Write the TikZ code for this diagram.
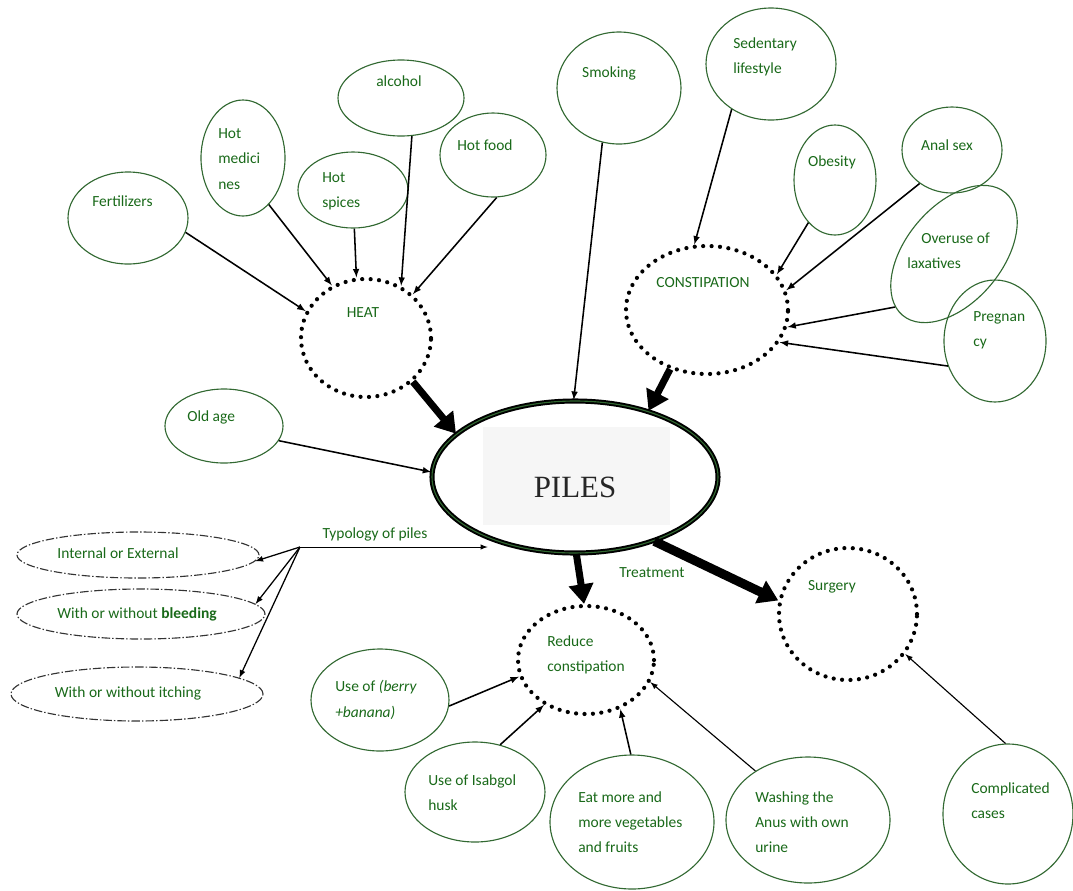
\documentclass[tikz,border=0pt]{standalone}
\usepackage{fontspec}
\setmainfont{Carlito}
\newfontfamily\pilesfont{Liberation Serif}
\usepackage{tikz}
\usetikzlibrary{shapes.geometric,arrows.meta}

\definecolor{bubgreen}{RGB}{50,105,50}
\definecolor{txtgreen}{RGB}{25,105,25}

\tikzset{
  bub/.style 2 args={ellipse, draw=bubgreen, line width=0.8pt, inner sep=0pt,
    minimum width=#1*0.025cm, minimum height=#2*0.025cm},
  dotbub/.style 2 args={ellipse, draw=black, line width=3pt, line cap=round,
    dash pattern=on 0pt off 6pt, inner sep=0pt,
    minimum width=#1*0.025cm, minimum height=#2*0.025cm},
  dashbub/.style 2 args={ellipse, draw=black!80, line width=0.8pt,
    dash pattern=on 6pt off 1.5pt on 1pt off 1.5pt, inner sep=0pt,
    minimum width=#1*0.025cm, minimum height=#2*0.025cm},
  txt/.style={text=txtgreen, font=\fontsize{11}{18}\selectfont, align=left,
    anchor=west, inner sep=0pt},
  ctxt/.style={txt, anchor=center},
  arr/.style={draw=black, line width=1.1pt, -latex},
  fatarr/.style={draw=black, line width=5pt, -{Triangle[length=14pt,width=17pt]}}
}

\begin{document}
\begin{tikzpicture}[x=0.025cm, y=-0.025cm]
  \useasboundingbox (0,0) rectangle (1073,890);

  % the main node
  \fill[gray!7] (483,427) rectangle (670,525);
  \node[ellipse, draw=black, double=bubgreen, double distance=0.8pt, line width=1.4pt,
        minimum width=286*0.025cm, minimum height=152*0.025cm] (piles) at (575,477) {};
  \node[font=\pilesfont\fontsize{22}{24}\selectfont, text=black!85] (pilesT) at (575,487) {PILES};

  % heat and what causes it
  \node[dotbub={130}{118}] (heat) at (366,338) {};
  \node[ctxt] (heatT) at (363,313) {HEAT};
  \node[bub={120}{92}] (fert) at (128,218) {};
  \node[txt] (fertT) at (92,201) {Fertilizers};
  \node[bub={84}{116}] (hotmed) at (243,158) {};
  \node[txt] (hotmedT) at (218,159) {Hot\\medici\\nes};
  \node[bub={110}{76}] (hotspice) at (353,190) {};
  \node[txt] (hotspiceT) at (322,191) {Hot\\spices};
  \node[bub={126}{76}] (alcohol) at (401,98) {};
  \node[ctxt] (alcoholT) at (399,81) {alcohol};
  \node[bub={106}{84}] (hotfood) at (493,155) {};
  \node[txt] (hotfoodT) at (457,145) {Hot food};

  \draw[arr] (fert.-14) -- (heat.156);
  \draw[arr] (hotmed.-61) -- (heat.123);
  \draw[arr] (hotspice.-88) -- (heat.99);
  \draw[arr] (alcohol.-74) -- (heat.56);
  \draw[arr] (hotfood.-85) -- (heat.43);
  \draw[fatarr] (heat.-43) -- (piles.160);

  % constipation and what causes it
  \node[dotbub={162}{128}] (constip) at (707,310) {};
  \node[ctxt] (constipT) at (703,283) {CONSTIPATION};
  \node[bub={130}{112}] (sedent) at (771,64) {};
  \node[txt] (sedentT) at (733,57) {Sedentary\\lifestyle};
  \node[bub={82}{110}] (obesity) at (835,180) {};
  \node[ctxt] (obesityT) at (832,162) {Obesity};
  \node[bub={100}{86}] (analsex) at (952,150) {};
  \node[ctxt] (analsexT) at (947,145) {Anal sex};
  \node[bub={160}{96}, rotate=50] (overuse) at (954,254) {};
  \node[txt] (overuseT) at (907,251) {\hspace*{10pt}Overuse of\\laxatives};
  \node[bub={102}{122}] (preg) at (995,341) {};
  \node[txt] (pregT) at (973,330) {Pregnan\\cy};

  \draw[arr] (sedent.-131) -- (constip.101);
  \draw[arr] (obesity.-122) -- (constip.27);
  \draw[arr] (analsex.-134) -- (constip.14);
  \draw[arr] (overuse.172) -- (constip.-12);
  \draw[arr] (preg.-152) -- (constip.-24);
  \draw[fatarr] (constip.-122) -- (piles.42);

  % straight into piles
  \node[bub={124}{112}] (smoking) at (619,88) {};
  \node[ctxt] (smokingT) at (609,73) {Smoking};
  \node[bub={118}{74}] (oldage) at (224,426) {};
  \node[txt] (oldageT) at (187,417) {Old age};
  \draw[arr] (smoking.-107) -- (piles.91);
  \draw[arr] (oldage.-15) -- (piles.178);

  % typology
  \coordinate (typ) at (300,547);
  \node[dashbub={242}{46}] (internal) at (138,555) {};
  \node[ctxt] (internalT) at (118,553) {Internal or External};
  \node[dashbub={248}{50}] (bleeding) at (141,614) {};
  \node[ctxt] (bleedingT) at (137,614) {With or without \textbf{bleeding}};
  \node[dashbub={252}{54}] (itching) at (137,694) {};
  \node[ctxt] (itchingT) at (128,693) {With or without itching};
  \draw[arr, line width=0.7pt] (typ) -- (typ -| piles.-145)
      node[ctxt, pos=0.4, above=4pt] (typT) {Typology of piles};
  \foreach \n/\a in {internal/-3, bleeding/5, itching/9}
    \draw[arr, line width=0.9pt] (typ) -- (\n.\a);

  % treatment
  \node[dotbub={136}{108}] (reduce) at (586,660) {};
  \node[txt] (reduceT) at (547,655) {Reduce\\constipation};
  \node[dotbub={138}{132}] (surgery) at (848,614) {};
  \node[ctxt] (surgeryT) at (832,587) {Surgery};
  \node[ctxt] (treatT) at (652,573) {Treatment};
  \draw[fatarr] (piles.-89) -- (reduce.92);
  \draw[fatarr, line width=6.5pt] (piles.-39) -- (surgery.169);

  \node[bub={138}{102}] (berry) at (380,700) {};
  \node[txt] (berryT) at (335,700) {Use of \textit{(berry}\\\textit{+banana)}};
  \node[bub={140}{100}] (isabgol) at (475,792) {};
  \node[txt] (isabgolT) at (428,793) {Use of Isabgol\\husk};
  \node[bub={164}{134}] (eatmore) at (632,822) {};
  \node[txt] (eatmoreT) at (578,822) {Eat more and\\more vegetables\\and fruits};
  \node[bub={164}{126}] (washing) at (808,820) {};
  \node[txt] (washingT) at (755,822) {Washing the\\Anus with own\\urine};
  \node[bub={130}{140}] (complic) at (1008,814) {};
  \node[txt] (complicT) at (971,801) {Complicated\\cases};

  \draw[arr] (berry.-5) -- (reduce.-166);
  \draw[arr] (isabgol.62) -- (reduce.-133);
  \draw[arr] (eatmore.91) -- (reduce.-55);
  \draw[arr, line width=0.8pt] (washing.137) -- (reduce.-19);
  \draw[arr, line width=0.8pt] (complic.92) -- (surgery.-35);
\end{tikzpicture}
\end{document}
